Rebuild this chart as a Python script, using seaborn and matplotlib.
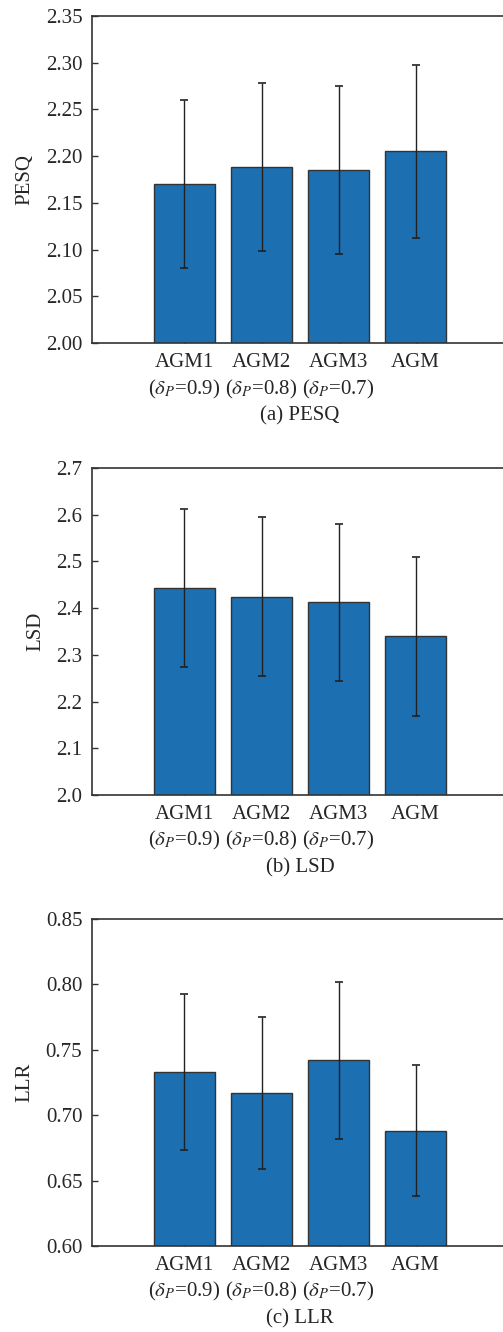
import numpy as np
import pandas as pd
import matplotlib
matplotlib.use('Agg')
import matplotlib.pyplot as plt
import seaborn as sns

# Methods and tick labels
methods = ['AGM1', 'AGM2', 'AGM3', 'AGM']
tick_labels = ['AGM1\n($\\delta_P$=0.9)', 'AGM2\n($\\delta_P$=0.8)',
               'AGM3\n($\\delta_P$=0.7)', 'AGM\n']

# Mean values and error (half-width)
pesq_mean = [2.170, 2.188, 2.185, 2.205]
pesq_err = [0.090, 0.090, 0.090, 0.093]
lsd_mean = [2.443, 2.424, 2.412, 2.340]
lsd_err = [0.170, 0.170, 0.168, 0.170]
llr_mean = [0.733, 0.717, 0.742, 0.688]
llr_err = [0.060, 0.058, 0.060, 0.050]

sns.set_style('white')
plt.rcParams['font.family'] = ['Liberation Serif', 'DejaVu Serif']
plt.rcParams['mathtext.fontset'] = 'stix'

bar_color = '#1c6fb1'

panels = [
    ('PESQ', '(a) PESQ', pesq_mean, pesq_err, (2.0, 2.35), np.arange(2.0, 2.351, 0.05), '{:.2f}'),
    ('LSD', '(b) LSD', lsd_mean, lsd_err, (2.0, 2.7), np.arange(2.0, 2.701, 0.1), '{:.1f}'),
    ('LLR', '(c) LLR', llr_mean, llr_err, (0.6, 0.85), np.arange(0.6, 0.851, 0.05), '{:.2f}'),
]

fig = plt.figure(figsize=(5.03, 13.32), dpi=100)
bottoms = [0.7425, 0.4032, 0.0646]

for (ylab, caption, means, errs, ylim, yticks, fmt), b in zip(panels, bottoms):
    ax = fig.add_axes([0.183, b, 0.827, 0.2455])
    df = pd.DataFrame({'method': methods, 'value': means})
    sns.barplot(data=df, x='method', y='value', color=bar_color, saturation=1,
                width=0.8, edgecolor='#333333', linewidth=1.0, ax=ax)
    ax.errorbar(np.arange(len(methods)), means, yerr=errs, fmt='none',
                ecolor='#222222', elinewidth=1.0, capsize=3, capthick=1.2)
    ax.set_xlim(-1.2, 4.2)
    ax.set_ylim(*ylim)
    ax.set_yticks(yticks)
    ax.set_yticklabels([fmt.format(t) for t in yticks])
    ax.set_xticks(range(len(methods)))
    ax.set_xticklabels(tick_labels, linespacing=1.35)
    ax.tick_params(axis='both', direction='in', labelsize=15, length=4,
                   width=1, color='#333333', pad=7, top=False, right=False,
                   left=True, bottom=True)
    ax.set_ylabel(ylab, fontsize=15, labelpad=8)
    ax.set_xlabel(caption, fontsize=15, labelpad=4)
    for s in ax.spines.values():
        s.set_color('#333333')
        s.set_linewidth(1.2)

fig.savefig('out.png', dpi=100)
